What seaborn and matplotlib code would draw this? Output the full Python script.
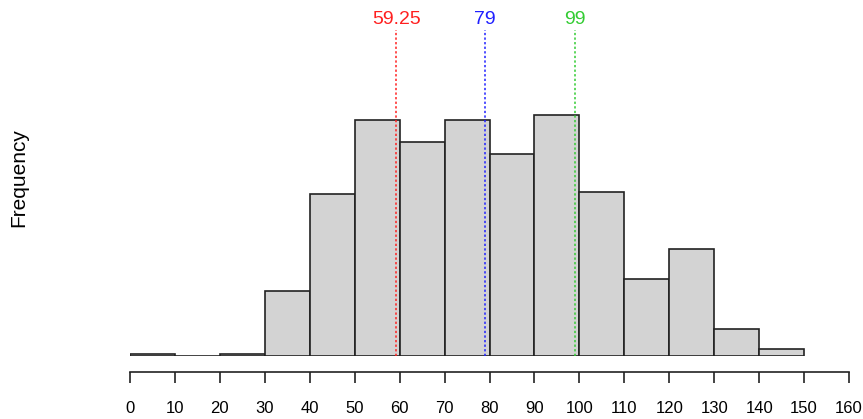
import matplotlib
matplotlib.use("Agg")
import matplotlib.pyplot as plt
import seaborn as sns
import numpy as np

# Histogram counts per 10-unit bin
bin_edges = [0, 10, 20, 30, 40, 50, 60, 70, 80, 90, 100, 110, 120, 130, 140, 150]
bin_counts = [1, 0, 1, 26, 65, 95, 86, 95, 81, 97, 66, 31, 43, 11, 3]

# Quartile markers
quartile_values = [59.25, 79, 99]
quartile_labels = ["59.25", "79", "99"]
quartile_colors = ["#FF2020", "#2020FF", "#33CC33"]

x_ticks = list(range(0, 161, 10))

sns.set_style("white")
plt.rcParams["font.family"] = ["Liberation Sans", "DejaVu Sans"]

W, H = 863, 419
fig = plt.figure(figsize=(W / 100, H / 100), dpi=100)
left_px, right_px, base_px, top_px = 130, 849, 356, 30
ax = fig.add_axes([left_px / W, (H - base_px) / H,
                   (right_px - left_px) / W, (base_px - top_px) / H])

mids = [(a + b) / 2 for a, b in zip(bin_edges[:-1], bin_edges[1:])]
sns.histplot(x=mids, weights=bin_counts, bins=bin_edges, ax=ax,
             color="#D3D3D3", edgecolor="#222222", linewidth=1.2,
             alpha=1.0, stat="count")

ax.set_xlim(0, 160)
ax.set_ylim(0, 131)

for q, lab, c in zip(quartile_values, quartile_labels, quartile_colors):
    ax.axvline(q, ymin=0, ymax=1, color=c, linestyle=(0, (1.5, 1.5)),
               linewidth=1.1, clip_on=False)
    ax.annotate(lab, xy=(q, 1), xycoords=("data", "axes fraction"),
                xytext=(0, 7.2), textcoords="offset points",
                ha="center", va="center", color=c, fontsize=14)

# R-style detached x axis
for s in ["left", "right", "top"]:
    ax.spines[s].set_visible(False)
ax.spines["bottom"].set_position(("outward", 11.2))
ax.spines["bottom"].set_color("#222222")
ax.spines["bottom"].set_linewidth(1.2)
ax.set_xticks(x_ticks)
ax.set_xticklabels([str(t) for t in x_ticks])
ax.tick_params(axis="x", bottom=True, direction="out", length=8, width=1.2,
               color="#222222", pad=13, labelsize=12, labelcolor="black")
ax.set_yticks([])
ax.set_xlabel("")
ax.set_ylabel("")

fig.text(19 / W, 1 - 178 / H, "Frequency", rotation=90,
         ha="center", va="center", fontsize=15, color="black")

fig.savefig("out.png", dpi=100)
